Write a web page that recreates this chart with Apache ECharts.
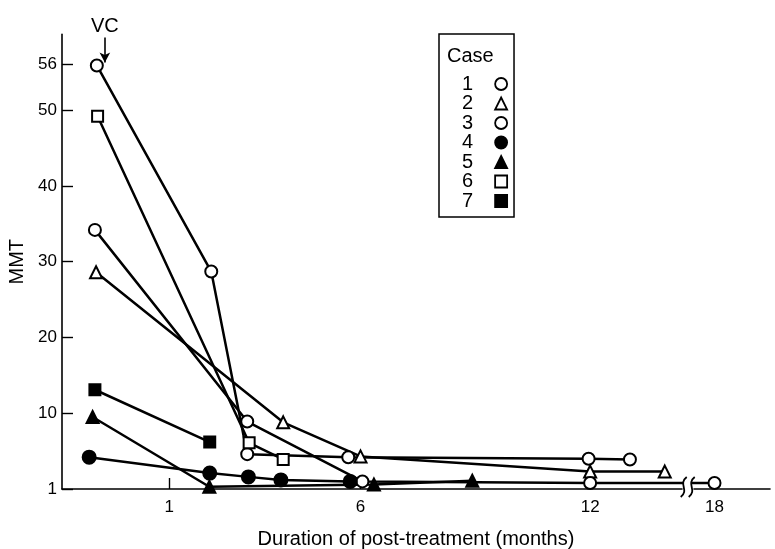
<!DOCTYPE html>
<html lang="en">
<head>
    <meta charset="UTF-8">
    <title>MMT after treatment</title>
    <script src="https://cdn.jsdelivr.net/npm/echarts@6/dist/echarts.min.js"></script>
    <style>
        html, body { margin: 0; padding: 0; background: #fff; }
    </style>
</head>
<body>
<div id="main" style="width: 775px;height:549px;"></div>

<script type="text/javascript">
    // [month, MMT] for each case
    var case1 = [[-0.89, 55.9], [2.1, 28.7], [3.04, 4.6], [5.68, 4.2], [11.96, 4.0], [13.04, 3.9]];
    var case2 = [[-0.91, 28.6], [3.98, 8.8], [6.0, 4.3], [12.0, 2.3], [13.95, 2.3]];
    var case3 = [[-0.94, 34.2], [3.04, 8.9], [6.05, 1.0], [12.0, 0.8], [18.0, 0.8]];
    var case4 = [[-1.09, 4.2], [2.06, 2.1], [3.07, 1.6], [3.92, 1.2], [5.73, 1.0]];
    var case5 = [[-1.0, 9.5], [2.05, 0.3], [6.35, 0.6], [8.92, 1.1]];
    var case6 = [[-0.87, 49.2], [3.09, 6.1], [3.98, 3.9]];
    var case7 = [[-0.94, 13.1], [2.06, 6.2]];

    var caseNames = ['1', '2', '3', '4', '5', '6', '7'];
    var yTicks = [0, 10, 20, 30, 40, 50, 56];
    var yTickText = ['1', '10', '20', '30', '40', '50', '56'];
    var xTicks = [1, 6, 12, 18];
    // the x axis is broken between these months
    var breakStart = 14.4;
    var breakEnd = 17.45;

    var font = 'Liberation Sans, Arial, sans-serif';

    // marker look for every case
    var marks = [
        { symbol: 'circle', size: 12, fill: '#fff' },
        { symbol: 'triangle', size: 12, fill: '#fff' },
        { symbol: 'circle', size: 12, fill: '#fff' },
        { symbol: 'circle', size: 13, fill: '#000' },
        { symbol: 'triangle', size: 12, fill: '#000' },
        { symbol: 'rect', size: 11, fill: '#fff' },
        { symbol: 'rect', size: 11, fill: '#000' }
    ];
    var caseData = [case1, case2, case3, case4, case5, case6, case7];

    var myChart = echarts.init(document.getElementById('main'));

    var series = [];
    var legendData = [];
    for (var i = 0; i < caseData.length; i++) {
        var s = {
            name: caseNames[i],
            type: 'line',
            data: caseData[i],
            symbol: marks[i].symbol,
            symbolSize: marks[i].size,
            showAllSymbol: true,
            lineStyle: { color: '#000', width: 2.5 },
            itemStyle: { color: marks[i].fill, borderColor: '#000', borderWidth: 2 },
            emphasis: { disabled: true },
            animation: false,
            z: 3
        };
        if (i === 0) {
            // "VC" arrow above the first point
            s.markLine = {
                silent: true,
                symbol: ['none', 'arrow'],
                symbolSize: [8, 10],
                lineStyle: { color: '#000', width: 1.6, type: 'solid' },
                label: {
                    show: true, position: 'start', formatter: 'VC',
                    color: '#000', fontSize: 20, fontFamily: font, distance: 1
                },
                data: [[{ coord: [-0.68, 59.6] }, { coord: [-0.68, 56.3] }]]
            };
        }
        series.push(s);
        legendData.push({
            name: caseNames[i],
            icon: marks[i].symbol,
            itemStyle: { color: marks[i].fill, borderColor: '#000', borderWidth: 1.8 }
        });
    }

    // break marks on the x axis
    series.push({
        type: 'custom',
        silent: true,
        z: 10,
        clip: false,
        animation: false,
        data: [[breakStart, breakEnd, 0]],
        renderItem: function (params, api) {
            var a = api.coord([api.value(0), api.value(2)]);
            var b = api.coord([api.value(1), api.value(2)]);
            var mx = (a[0] + b[0]) / 2;
            var y = a[1] - 2;
            function wave(x) {
                return {
                    type: 'bezierCurve',
                    shape: { x1: x + 3, y1: y - 10, cpx1: x - 6, cpy1: y - 3, cpx2: x + 6, cpy2: y + 3, x2: x - 3, y2: y + 10 },
                    style: { stroke: '#000', lineWidth: 1.8, fill: null }
                };
            }
            return {
                type: 'group',
                children: [
                    { type: 'rect', shape: { x: mx - 4, y: y - 8, width: 8, height: 16 }, style: { fill: '#fff' } },
                    wave(mx - 4),
                    wave(mx + 4)
                ]
            };
        }
    });

    var option = {
        backgroundColor: '#fff',
        animation: false,
        textStyle: { fontFamily: font, color: '#000' },
        grid: { left: 62, right: 5, top: 34.4, bottom: 60, containLabel: false, outerBoundsMode: 'none' },
        title: {
            text: 'Case',
            left: 447, top: 46,
            padding: 0,
            textStyle: { fontSize: 20, fontWeight: 'normal', color: '#000', fontFamily: font }
        },
        legend: {
            data: legendData,
            orient: 'vertical',
            left: 439, top: 34,
            align: 'right',
            padding: [40, 6, 6, 23],
            itemGap: -0.5,
            itemWidth: 12,
            itemHeight: 12,
            borderColor: '#000',
            borderWidth: 1.5,
            selectedMode: false,
            textStyle: { fontSize: 20, color: '#000', fontFamily: font, padding: [0, 17, 0, 0] }
        },
        xAxis: {
            type: 'value',
            min: -1.8,
            max: 19.45,
            name: 'Duration of post-treatment (months)',
            nameLocation: 'middle',
            nameGap: 40,
            nameTextStyle: { fontSize: 20, color: '#000', fontFamily: font },
            breaks: [{ start: breakStart, end: breakEnd, gap: 0.3 }],
            breakArea: { show: false },
            axisLine: { onZero: false, lineStyle: { color: '#000', width: 1.6 } },
            axisTick: { inside: true, length: 11, customValues: xTicks, lineStyle: { color: '#000', width: 1.4 } },
            axisLabel: { customValues: xTicks, fontSize: 17, color: '#000', margin: 10, fontFamily: font },
            splitLine: { show: false }
        },
        yAxis: {
            type: 'value',
            min: 0,
            max: 60,
            name: 'MMT',
            nameLocation: 'middle',
            nameGap: 29,
            nameTextStyle: { fontSize: 20, color: '#000', fontFamily: font },
            axisLine: { show: true, onZero: false, lineStyle: { color: '#000', width: 1.6 } },
            axisTick: { show: true, inside: true, length: 11, customValues: yTicks, lineStyle: { color: '#000', width: 1.4 } },
            axisLabel: {
                customValues: yTicks,
                fontSize: 17, color: '#000', margin: 5, fontFamily: font,
                formatter: function (v) {
                    var k = yTicks.indexOf(v);
                    return k >= 0 ? yTickText[k] : '';
                }
            },
            splitLine: { show: false }
        },
        series: series
    };

    myChart.setOption(option);
</script>
</body>
</html>
